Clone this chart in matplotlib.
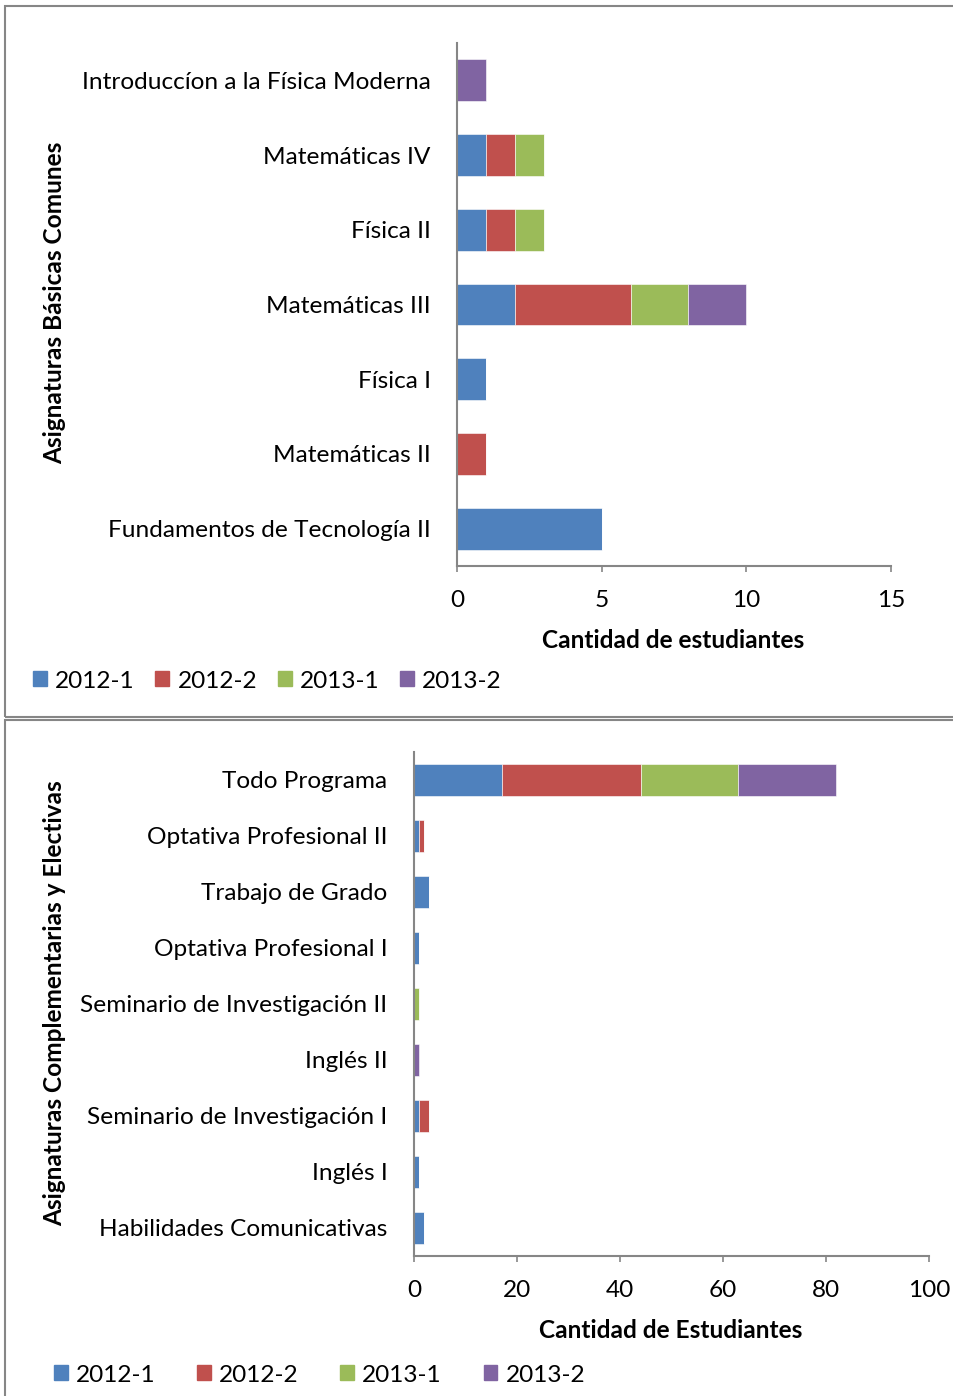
import numpy as np
import matplotlib
matplotlib.use("Agg")
import matplotlib.pyplot as plt
from matplotlib.patches import Rectangle

# --- Data ---
SERIES = ["2012-1", "2012-2", "2013-1", "2013-2"]
COLORS = ["#4F81BD", "#C0504D", "#9BBB59", "#8064A2"]

basic_subjects = [
    "Fundamentos de Tecnología II",
    "Matemáticas II",
    "Física I",
    "Matemáticas III",
    "Física II",
    "Matemáticas IV",
    "Introduccíon a la Física Moderna",
]
basic_2012_1 = [5, 0, 1, 2, 1, 1, 0]
basic_2012_2 = [0, 1, 0, 4, 1, 1, 0]
basic_2013_1 = [0, 0, 0, 2, 1, 1, 0]
basic_2013_2 = [0, 0, 0, 2, 0, 0, 1]

compl_subjects = [
    "Habilidades Comunicativas",
    "Inglés I",
    "Seminario de Investigación I",
    "Inglés II",
    "Seminario de Investigación II",
    "Optativa Profesional I",
    "Trabajo de Grado",
    "Optativa Profesional II",
    "Todo Programa",
]
compl_2012_1 = [2, 1, 1, 0, 0, 1, 3, 1, 17]
compl_2012_2 = [0, 0, 2, 0, 0, 0, 0, 1, 27]
compl_2013_1 = [0, 0, 0, 0, 1, 0, 0, 0, 19]
compl_2013_2 = [0, 0, 0, 1, 0, 0, 0, 0, 19]

basic_ticks = [0, 5, 10, 15]
compl_ticks = [0, 20, 40, 60, 80, 100]

# --- Layout (pixels) ---
W, H = 954, 1396
FONT = ["Lato", "DejaVu Sans"]
FS = 17.6
plt.rcParams["font.family"] = FONT
SPINE = "#868686"


def px_axes(fig, x0, y0, x1, y1):
    return fig.add_axes([x0 / W, 1 - y1 / H, (x1 - x0) / W, (y1 - y0) / H])


def stacked_barh(ax, labels, series, ticks, bar_h):
    y = np.arange(len(labels))
    left = np.zeros(len(labels))
    for vals, color in zip(series, COLORS):
        vals = np.array(vals, dtype=float)
        ax.barh(y, vals, left=left, height=bar_h, color=color,
                edgecolor="white", linewidth=0.4)
        left += vals
    ax.set_ylim(-0.5, len(labels) - 0.5)
    ax.set_xlim(ticks[0], ticks[-1])
    ax.set_xticks(ticks)
    ax.set_yticks(y)
    ax.set_yticklabels(labels, fontsize=FS)
    ax.tick_params(axis="y", length=0, pad=19)
    ax.tick_params(axis="x", length=4, width=1.2, color=SPINE,
                   labelsize=FS, pad=13)
    for s in ["top", "right"]:
        ax.spines[s].set_visible(False)
    for s in ["left", "bottom"]:
        ax.spines[s].set_color(SPINE)
        ax.spines[s].set_linewidth(1.5)


fig = plt.figure(figsize=(W / 100, H / 100), dpi=100)

# panel frames
fig.patches.append(Rectangle((5 / W, 1 - 717 / H), 1.0, (717 - 6) / H,
                             transform=fig.transFigure, fill=False,
                             edgecolor=SPINE, linewidth=1.5))
fig.patches.append(Rectangle((5 / W, -0.01), 1.0, 1 - 720 / H + 0.01,
                             transform=fig.transFigure, fill=False,
                             edgecolor=SPINE, linewidth=1.5))

# top chart
ax1 = px_axes(fig, 457, 43, 891, 566)
stacked_barh(ax1, basic_subjects,
             [basic_2012_1, basic_2012_2, basic_2013_1, basic_2013_2],
             basic_ticks, 0.56)
fig.text(673 / W, 1 - 640 / H, "Cantidad de estudiantes", ha="center",
         va="center", fontsize=FS, fontweight="bold")
fig.text(55 / W, 1 - 303 / H, "Asignaturas Básicas Comunes", ha="center",
         va="center", rotation=90, fontsize=FS, fontweight="bold")

# bottom chart
ax2 = px_axes(fig, 414, 752, 929, 1256)
stacked_barh(ax2, compl_subjects,
             [compl_2012_1, compl_2012_2, compl_2013_1, compl_2013_2],
             compl_ticks, 0.57)
fig.text(671 / W, 1 - 1330 / H, "Cantidad de Estudiantes", ha="center",
         va="center", fontsize=FS, fontweight="bold")
fig.text(55 / W, 1 - 1003 / H, "Asignaturas Complementarias y Electivas",
         ha="center", va="center", rotation=90, fontsize=FS,
         fontweight="bold")

# legends
handles = [Rectangle((0, 0), 1, 1, color=c) for c in COLORS]
for y_px, x_px, spacing in [(681, 33, 0.85), (1375, 54, 1.7)]:
    fig.legend(handles, SERIES, loc="center left",
               bbox_to_anchor=(x_px / W, 1 - y_px / H), ncol=4,
               frameon=False, fontsize=FS, handlelength=0.57,
               handleheight=0.57, handletextpad=0.33,
               columnspacing=spacing, borderaxespad=0, borderpad=0)

fig.savefig("out.png", dpi=100)
